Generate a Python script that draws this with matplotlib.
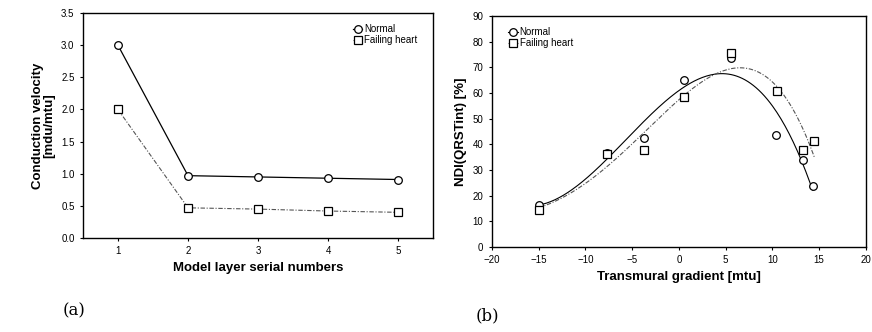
import numpy as np
import matplotlib.pyplot as plt

plt.rcParams['font.family'] = ['Liberation Sans', 'DejaVu Sans']

# panel (a) data
layers = [1, 2, 3, 4, 5]
cv_normal = [3.0, 0.97, 0.95, 0.93, 0.91]
cv_failing = [2.0, 0.47, 0.45, 0.42, 0.40]

# panel (b) data
grad_normal = [-15, -7.7, -3.7, 0.5, 5.6, 10.4, 13.3, 14.3]
ndi_normal = [16.3, 36.8, 42.5, 64.9, 73.7, 43.8, 34.0, 23.9]
grad_failing = [-15, -7.7, -3.7, 0.5, 5.6, 10.5, 13.3, 14.5]
ndi_failing = [14.6, 36.4, 37.7, 58.4, 75.7, 60.9, 37.7, 41.2]

fig = plt.figure(figsize=(8.72, 3.32), dpi=100)
ax1 = fig.add_axes([0.095, 0.283, 0.402, 0.678])
ax2 = fig.add_axes([0.564, 0.256, 0.429, 0.696])

gray = "#555555"
dashdot = (0, (4, 1.5, 1, 1.5))
mk = dict(markersize=5.5, markerfacecolor="white", markeredgewidth=0.9)

# (a)
ax1.plot(layers, cv_normal, color="black", lw=0.9, marker="o",
         markeredgecolor="black", label="Normal", **mk)
ax1.plot(layers, cv_failing, color=gray, lw=0.8, ls=dashdot, marker="s",
         markeredgecolor="black", label="Failing heart", **mk)
ax1.set_xlim(0.5, 5.5)
ax1.set_ylim(0, 3.5)
ax1.set_xticks(layers)
ax1.set_yticks(np.arange(0, 3.51, 0.5))
ax1.set_yticklabels([f"{v:.1f}" for v in np.arange(0, 3.51, 0.5)])
ax1.set_xlabel("Model layer serial numbers", fontsize=9.5, fontweight="bold", labelpad=4)
ax1.set_ylabel("Conduction velocity\n[mdu/mtu]", fontsize=9.5, fontweight="bold",
               linespacing=1.0, labelpad=4)
ax1.legend(loc="upper right", frameon=False, fontsize=7, handlelength=1.0,
           handletextpad=0.2, labelspacing=0.1, bbox_to_anchor=(0.98, 0.99))

# (b) – points with polynomial trend lines
for gx, gy, deg, m, c, ls, lab in [
        (grad_normal, ndi_normal, 3, "o", "black", "-", "Normal"),
        (grad_failing, ndi_failing, 4, "s", gray, dashdot, "Failing heart")]:
    coef = np.polyfit(gx, gy, deg)
    xs = np.linspace(min(gx), max(gx), 200)
    ax2.plot(xs, np.polyval(coef, xs), color=c, lw=0.8, ls=ls)
    ax2.plot(gx, gy, ls="none", marker=m, markeredgecolor="black", **mk)
    ax2.plot([], [], color=c, lw=0.8, ls=ls, marker=m, markeredgecolor="black",
             label=lab, **mk)
ax2.set_xlim(-20, 20)
ax2.set_ylim(0, 90)
ax2.set_xticks(np.arange(-20, 21, 5))
ax2.set_yticks(np.arange(0, 91, 10))
ax2.set_xlabel("Transmural gradient [mtu]", fontsize=9.5, fontweight="bold", labelpad=4)
ax2.set_ylabel("NDI(QRSTint) [%]", fontsize=9.5, fontweight="bold", labelpad=4)
ax2.legend(loc="upper left", frameon=False, fontsize=7, handlelength=1.0,
           handletextpad=0.2, labelspacing=0.1, bbox_to_anchor=(0.02, 0.99))

for ax in (ax1, ax2):
    ax.tick_params(labelsize=7, length=2.5, width=0.8, direction="out")
    for s in ax.spines.values():
        s.set_linewidth(1.0)

fig.text(0.072, 0.05, "(a)", family="DejaVu Serif", fontsize=12)
fig.text(0.545, 0.035, "(b)", family="DejaVu Serif", fontsize=12)

fig.savefig("out.png", dpi=100)
